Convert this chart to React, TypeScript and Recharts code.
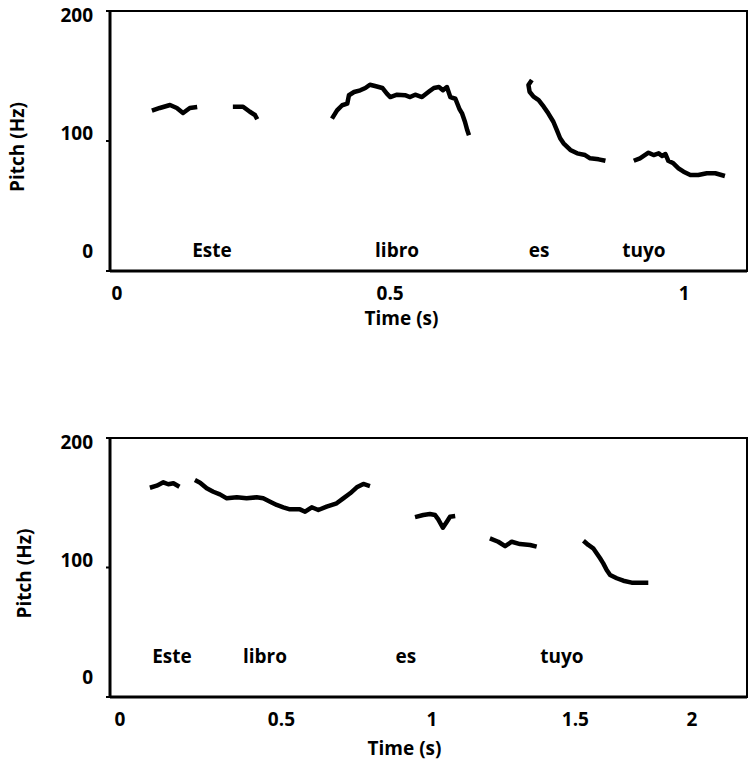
import { ComposedChart, Line, XAxis, YAxis, Scatter, ReferenceArea, Label } from "recharts";

// pitch tracks, [time s, pitch Hz]
const TOP_SEG1 = [[0.074, 123.3], [0.088, 125.4], [0.106, 127.7], [0.118, 125.4], [0.129, 121.5], [0.141, 125.4], [0.154, 126.2]];
const TOP_SEG2 = [[0.217, 126.4], [0.235, 126.4], [0.247, 122.5], [0.256, 120], [0.26, 116.7]];
const TOP_SEG3 = [
  [0.392, 117.2], [0.401, 123.6], [0.41, 127.5], [0.419, 128.7], [0.422, 135.2], [0.431, 137.7], [0.442, 139],
  [0.451, 140.8], [0.459, 143.3], [0.468, 142.3], [0.481, 140.8], [0.489, 136.4], [0.495, 133.8], [0.507, 135.6],
  [0.521, 135.2], [0.53, 133.8], [0.539, 135.6], [0.551, 133.8], [0.564, 138.2], [0.572, 140.8], [0.581, 141.5],
  [0.588, 139], [0.595, 141.5], [0.601, 133.8], [0.61, 132.5], [0.617, 124.8], [0.622, 121], [0.627, 114.6],
  [0.631, 108.2], [0.634, 104.4],
];
const TOP_SEG4 = [
  [0.745, 146.9], [0.739, 143.1], [0.741, 137.9], [0.748, 134.1], [0.757, 131.5], [0.766, 126.4], [0.774, 121.3],
  [0.783, 114.8], [0.789, 108.5], [0.795, 102.1], [0.801, 98.2], [0.813, 93.1], [0.825, 90.5], [0.839, 89.2],
  [0.848, 86.7], [0.863, 85.9], [0.875, 84.8],
];
const TOP_SEG5 = [
  [0.925, 84.8], [0.936, 86.7], [0.951, 91], [0.96, 89.2], [0.969, 90.5], [0.975, 88.5], [0.981, 90], [0.986, 84.8],
  [0.995, 82.8], [1.004, 79], [1.013, 76.4], [1.025, 73.8], [1.039, 73.8], [1.054, 75.2], [1.069, 75.2], [1.086, 73.1],
];

const BOT_SEG1 = [[0.059, 161.6], [0.083, 163.2], [0.106, 165.8], [0.123, 164.3], [0.141, 165.1], [0.162, 162.4]];
const BOT_SEG2 = [
  [0.216, 167.6], [0.234, 165.5], [0.257, 161.2], [0.28, 158.5], [0.303, 156.5], [0.327, 153.4], [0.362, 154.2],
  [0.396, 153.4], [0.431, 154.2], [0.454, 153.4], [0.478, 150.8], [0.501, 148.3], [0.524, 146.5], [0.547, 144.9],
  [0.582, 144.9], [0.6, 143.1], [0.623, 146.5], [0.646, 144.4], [0.675, 147], [0.71, 149.6], [0.733, 153.4],
  [0.757, 157.3], [0.78, 161.9], [0.803, 164.5], [0.826, 162.9],
];
const BOT_SEG3 = [[0.983, 138.9], [1.012, 140.5], [1.035, 141.3], [1.053, 140.5], [1.064, 137.2], [1.08, 130.7], [1.094, 135.4], [1.105, 139.2], [1.123, 139.8]];
const BOT_SEG4 = [[1.244, 122.5], [1.273, 119.9], [1.297, 116.5], [1.32, 119.9], [1.349, 118.1], [1.384, 117.4], [1.407, 116.1]];
const BOT_SEG5 = [
  [1.57, 120.7], [1.587, 117.4], [1.604, 114.8], [1.616, 111], [1.628, 107.1], [1.639, 103.2], [1.651, 98.1],
  [1.663, 94.2], [1.686, 91.7], [1.709, 89.8], [1.738, 88.3], [1.767, 88.3], [1.796, 88.3],
];

const WORDS = ["Este", "libro", "es", "tuyo"];
const TOP_WORD_T = [0.18, 0.507, 0.758, 0.943];
const BOT_WORD_T = [0.136, 0.46, 0.951, 1.495];

const Y_TICKS = [0, 100, 200];
const TOP_X_TICKS = [0, 0.5, 1];
const BOT_X_TICKS = [0, 0.5, 1, 1.5, 2];

const TXT = { fontFamily: "'Open Sans', sans-serif", fontWeight: 700, fontSize: 19, fill: "#000" };
const Y_LABEL_SHIFT: Record<number, number> = { 0: -20, 100: -8, 200: 4 };

const toPts = (seg: number[][]) => seg.map(([t, hz]) => ({ t, hz }));

function YTick({ x, y, payload }: any) {
  return (
    <text x={x} y={y + (Y_LABEL_SHIFT[payload.value] ?? 0)} textAnchor="end" dominantBaseline="central" style={TXT}>
      {payload.value}
    </text>
  );
}

function WordShape({ cx, cy, payload }: any) {
  return (
    <text x={cx} y={cy} textAnchor="middle" dominantBaseline="central" style={TXT}>
      {payload.word}
    </text>
  );
}

function Panel({ segs, wordT, wordHz, xDomain, xTicks, xShift, height, top, bottom, xTitle, yTitle }: any) {
  const words = wordT.map((t: number, i: number) => ({ t, hz: wordHz, word: WORDS[i] }));
  return (
    <ComposedChart width={754} height={height} margin={{ top, right: 7, bottom: 0, left: 0 }}>
      <ReferenceArea x1={xDomain[0]} x2={xDomain[1]} y1={0} y2={200} fill="none" stroke="#000" strokeWidth={2} />
      <XAxis
        type="number"
        dataKey="t"
        domain={xDomain}
        ticks={xTicks}
        interval={0}
        height={bottom}
        tickSize={0}
        tickLine={false}
        axisLine={{ stroke: "#000", strokeWidth: 3 }}
        tick={(p: any) => (
          <text x={p.x + (xShift[p.index] ?? 0)} y={p.y + 20} textAnchor="middle" dominantBaseline="central" style={TXT}>
            {p.payload.value}
          </text>
        )}
      >
        <Label
          content={({ viewBox }: any) => (
            <text
              x={viewBox.x + viewBox.width / 2 + xTitle[0]}
              y={viewBox.y + xTitle[1]}
              textAnchor="middle"
              dominantBaseline="central"
              style={TXT}
            >
              Time (s)
            </text>
          )}
        />
      </XAxis>
      <YAxis
        type="number"
        domain={[0, 200]}
        ticks={Y_TICKS}
        width={110}
        tickSize={4}
        tickMargin={13}
        tickLine={{ stroke: "#000", strokeWidth: 2 }}
        axisLine={{ stroke: "#000", strokeWidth: 3 }}
        tick={<YTick />}
      >
        <Label
          content={({ viewBox }: any) => {
            const cx = viewBox.x + viewBox.width + yTitle[0];
            const cy = viewBox.y + viewBox.height / 2 + yTitle[1];
            return (
              <text x={cx} y={cy} transform={`rotate(-90 ${cx} ${cy})`} textAnchor="middle" dominantBaseline="central" style={TXT}>
                Pitch (Hz)
              </text>
            );
          }}
        />
      </YAxis>
      {segs.map((s: number[][], i: number) => (
        <Line
          key={i}
          data={toPts(s)}
          dataKey="hz"
          type="linear"
          stroke="#000"
          strokeWidth={4.5}
          strokeLinejoin="round"
          dot={false}
          activeDot={false}
          isAnimationActive={false}
        />
      ))}
      <Scatter data={words} dataKey="hz" shape={<WordShape />} isAnimationActive={false} />
    </ComposedChart>
  );
}

export default function App() {
  return (
    <div style={{ position: "absolute", left: 0, top: 0, width: 754, height: 767, background: "#fff" }}>
      <div style={{ position: "absolute", left: 0, top: 0 }}>
        <Panel
          segs={[TOP_SEG1, TOP_SEG2, TOP_SEG3, TOP_SEG4, TOP_SEG5]}
          wordT={TOP_WORD_T}
          wordHz={16}
          xDomain={[0, 1.125]}
          xTicks={TOP_X_TICKS}
          xShift={[7, -3, 8]}
          height={330}
          top={11}
          bottom={59}
          xTitle={[-27, 47]}
          yTitle={[-93, 6]}
        />
      </div>
      <div style={{ position: "absolute", left: 0, top: 400 }}>
        <Panel
          segs={[BOT_SEG1, BOT_SEG2, BOT_SEG3, BOT_SEG4, BOT_SEG5]}
          wordT={BOT_WORD_T}
          wordHz={32}
          xDomain={[-0.08, 2.14]}
          xTicks={BOT_X_TICKS}
          xShift={[-13, 5, 12, 12, -15]}
          height={367}
          top={38}
          bottom={70}
          xTitle={[-24, 51]}
          yTitle={[-86, 6]}
        />
      </div>
    </div>
  );
}
